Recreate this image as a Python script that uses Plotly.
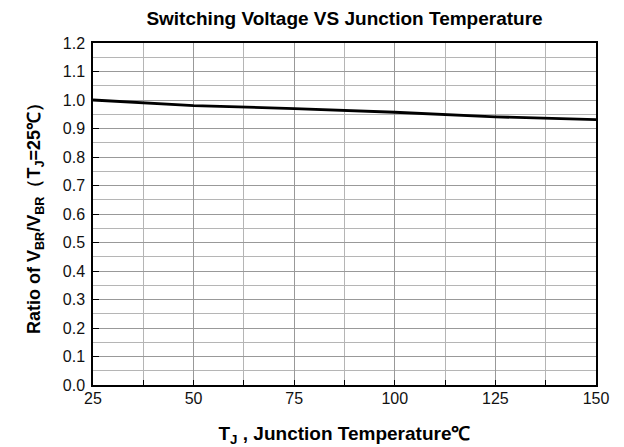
import plotly.graph_objects as go

temps = [25, 50, 75, 100, 125, 150]
ratio = [1.0, 0.98, 0.97, 0.957, 0.941, 0.931]
x_ticks = [25, 50, 75, 100, 125, 150]
y_ticks = [0.0, 0.1, 0.2, 0.3, 0.4, 0.5, 0.6, 0.7, 0.8, 0.9, 1.0, 1.1, 1.2]

fig = go.Figure()
fig.add_trace(go.Scatter(x=temps, y=ratio, mode="lines",
                         line=dict(color="black", width=2.8), showlegend=False))

font = "Liberation Sans, Arial, sans-serif"
H = 439
fig.update_layout(
    width=616, height=H,
    margin=dict(l=85, r=28, t=35, b=62),
    paper_bgcolor="white", plot_bgcolor="white",
    title=dict(text="<b>Switching Voltage VS Junction Temperature</b>",
               x=0.5, xanchor="center", xref="paper",
               y=1 - 10 / H, yanchor="middle", yref="container",
               font=dict(family=font, size=19, color="black")),
    font=dict(family=font, color="black"),
)
fig.update_xaxes(
    range=[25, 150], tickvals=x_ticks, ticktext=[str(v) for v in x_ticks],
    showline=True, linecolor="black", linewidth=1.5, mirror=True,
    showgrid=True, gridcolor="#999999", gridwidth=1,
    ticks="inside", ticklen=5, tickcolor="black",
    minor=dict(dtick=12.5, tick0=25, showgrid=True, gridcolor="#b5b5b5", ticks="inside", ticklen=5, tickcolor="black"),
    tickfont=dict(size=16, family=font, color="#111111"),
    ticklabelstandoff=-2,
    automargin=False,
    title=dict(text="<b>T<sub>J</sub> , Junction Temperature℃</b>", font=dict(size=19, family=font), standoff=21),
    zeroline=False,
)
fig.update_yaxes(
    range=[0, 1.2], tickvals=y_ticks, ticktext=[f"{v:.1f}" for v in y_ticks],
    showline=True, linecolor="black", linewidth=1.5, mirror=True,
    showgrid=True, gridcolor="#999999", gridwidth=1,
    ticks="inside", ticklen=6, tickcolor="black",
    minor=dict(dtick=0.05, tick0=0, showgrid=True, gridcolor="#b5b5b5"),
    tickfont=dict(size=16, family=font, color="#111111"),
    ticklabelstandoff=3,
    automargin=False,
    title=dict(text="<b>Ratio of V<sub>BR</sub>/V<sub>BR</sub>（T<sub>J</sub>=25℃）</b>", font=dict(size=18, family=font), standoff=17),
    zeroline=False,
)
fig.write_html("out.html")
